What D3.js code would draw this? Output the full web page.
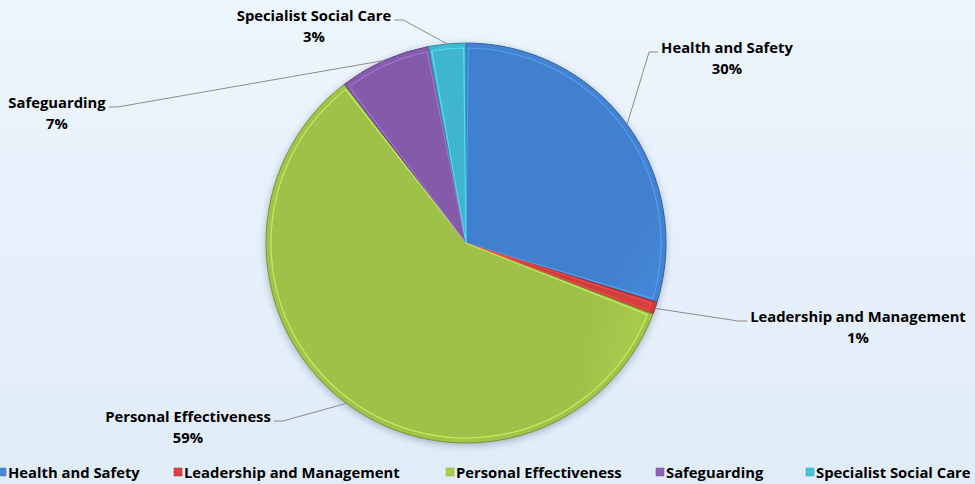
<!DOCTYPE html>
<html><head><meta charset="utf-8">
<script src="https://cdn.jsdelivr.net/npm/d3@7"></script>
<style>
html,body{margin:0;padding:0;overflow:hidden;}
svg{display:block;}
text{font-family:"Open Sans","Noto Sans",sans-serif;font-weight:700;fill:#000;}
</style></head>
<body>
<script>
// ---- data ----
const categories = ["Health and Safety","Leadership and Management","Personal Effectiveness","Safeguarding","Specialist Social Care"];
const values = [29.8, 1.0, 58.8, 7.4, 3.0];
const colors = ["#4689dc","#dc4040","#a9cf4e","#8d62b6","#45c2df"];

// ---- layout ----
const W = 975, H = 484;
const cx = 466, cy = 243, R = 200;
const fontSize = 14.8;
const labelAnchor = [[727,53],[858,322],[188,422],[57,108],[314,21]];
const legendX = [-2,174,446,656,806];
const legendY = 473;

const svg = d3.select("body").append("svg").attr("width",W).attr("height",H);
const defs = svg.append("defs");
const bg = defs.append("linearGradient").attr("id","bg").attr("x1",0).attr("y1",0).attr("x2",0).attr("y2",1);
bg.append("stop").attr("offset","0%").attr("stop-color","#edf5fd");
bg.append("stop").attr("offset","100%").attr("stop-color","#e0ecf8");
svg.append("rect").attr("width",W).attr("height",H).attr("fill","url(#bg)");

const f = defs.append("filter").attr("id","sh").attr("x","-20%").attr("y","-20%").attr("width","140%").attr("height","140%");
f.append("feGaussianBlur").attr("stdDeviation",3);

colors.forEach((c,i)=>{
  const g = defs.append("radialGradient").attr("id","g"+i).attr("gradientUnits","userSpaceOnUse")
    .attr("cx",cx-60).attr("cy",cy-80).attr("r",R*1.5);
  g.append("stop").attr("offset","0%").attr("stop-color",d3.color(c).brighter(0.25));
  g.append("stop").attr("offset","75%").attr("stop-color",c);
  g.append("stop").attr("offset","100%").attr("stop-color",d3.color(c).darker(0.2));
});

const pie = d3.pie().sort(null).value(d=>d);
const arcs = pie(values);
const arc = d3.arc().innerRadius(0).outerRadius(R);
const inner = d3.arc().innerRadius(0).outerRadius(R-5);
const edge = d3.arc().innerRadius(R).outerRadius(R);

const gp = svg.append("g").attr("transform",`translate(${cx},${cy})`);
gp.append("circle").attr("r",R+1).attr("cy",2).attr("fill","rgba(40,60,90,0.3)").attr("filter","url(#sh)");
gp.selectAll("path.base").data(arcs).join("path").attr("class","base")
  .attr("d",arc).attr("fill",(d,i)=>d3.color(colors[i]).darker(0.15))
  .attr("stroke",(d,i)=>d3.color(colors[i]).darker(0.9)).attr("stroke-width",1);
gp.selectAll("path.top").data(arcs).join("path").attr("class","top")
  .attr("d",d=>inner({startAngle:d.startAngle+0.012,endAngle:d.endAngle-0.012}))
  .attr("fill",(d,i)=>`url(#g${i})`)
  .attr("stroke",(d,i)=>d3.color(colors[i]).brighter(0.6)).attr("stroke-opacity",0.7).attr("stroke-width",1.2);

// labels + leaders
const pct = values.map(v=>Math.round(v/d3.sum(values)*100)+"%");
const lg = svg.append("g");
arcs.forEach((d,i)=>{
  const [lx,ly] = labelAnchor[i];
  const t = lg.append("text").attr("x",lx).attr("y",ly).attr("text-anchor","middle").style("font-size",fontSize+"px");
  t.text(categories[i]);
  lg.append("text").attr("x",lx).attr("y",ly+21).attr("text-anchor","middle").style("font-size",fontSize+"px").text(pct[i]);
  const w = t.node().getComputedTextLength();
  const [px,py] = edge.centroid(d);
  const sx = cx+px, sy = cy+py;
  const right = (sx < lx - w/2);
  const ex = right ? lx - w/2 - 3 : lx + w/2 + 3;
  const elbow = right ? ex - 9 : ex + 9;
  const yy = ly - 1;
  lg.append("path").attr("d",`M${sx},${sy}L${elbow},${yy}L${ex},${yy}`)
    .attr("fill","none").attr("stroke","#8c8c8c").attr("stroke-width",1);
});

// legend
const leg = svg.append("g");
categories.forEach((c,i)=>{
  leg.append("rect").attr("x",legendX[i]).attr("y",legendY-5).attr("width",8).attr("height",8)
    .attr("fill",colors[i]).attr("stroke",d3.color(colors[i]).darker(0.6)).attr("stroke-width",0.5);
  leg.append("text").attr("x",legendX[i]+10).attr("y",legendY+5).style("font-size",fontSize+"px").text(c);
});
</script>
</body></html>
